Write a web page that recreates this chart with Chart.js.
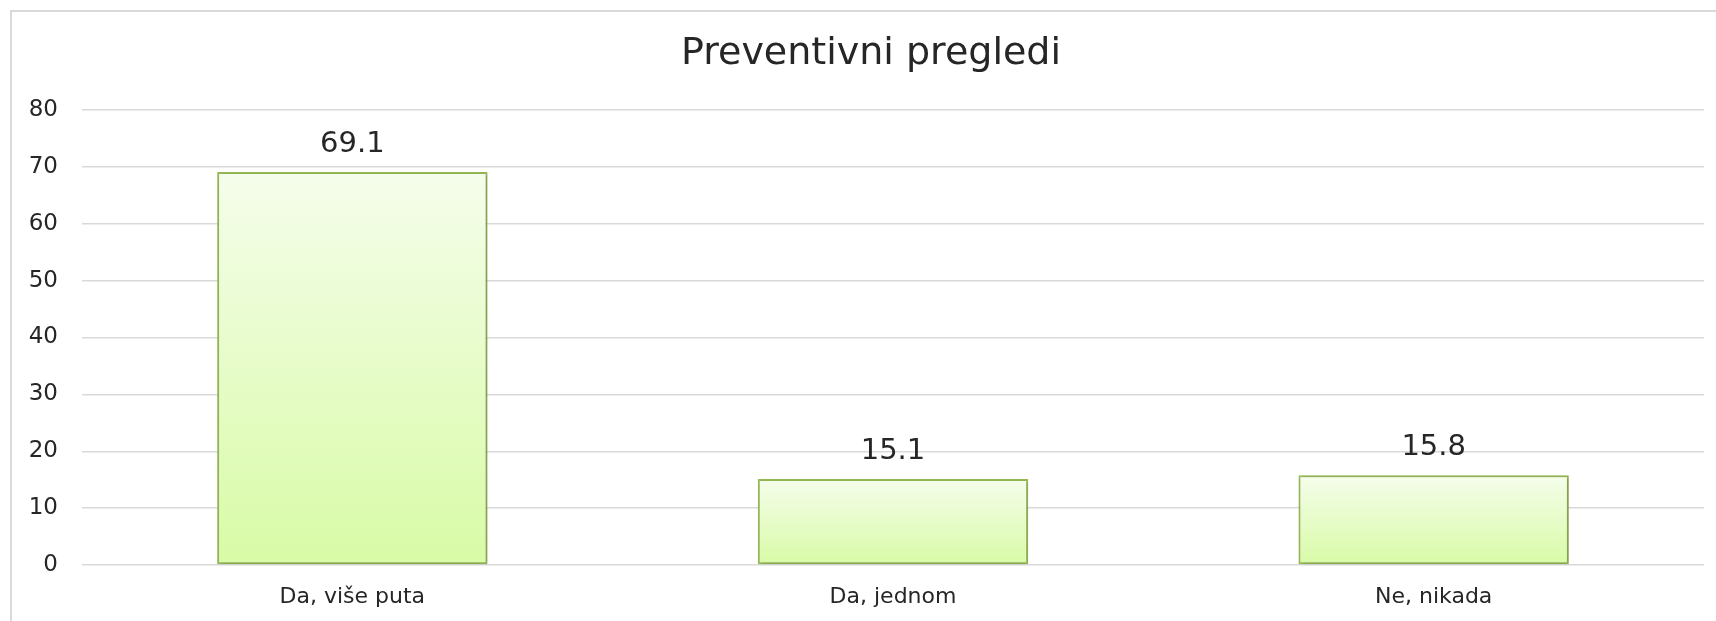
<!DOCTYPE html>
<html>
<head>
<meta charset="utf-8">
<script src="https://cdn.jsdelivr.net/npm/chart.js@4"></script>
<style>
  html, body { margin: 0; padding: 0; background: #fff; overflow: hidden; }
  #okvir {
    position: absolute; left: 10px; top: 10px;
    width: 1718px; height: 620px;
    border-left: 2px solid #d9d9d9; border-top: 2px solid #d9d9d9;
  }
  #grafik { display: block; }
</style>
</head>
<body>
<div id="okvir">
  <canvas id="grafik" width="1718" height="609"></canvas>
</div>
<script>
// podaci
const kategorije = ["Da, više puta", "Da, jednom", "Ne, nikada"];
const vrijednosti = [69.1, 15.1, 15.8];
const yMin = 0;
const yMax = 80;
const yKorak = 10;

const font = "'DejaVu Sans', sans-serif";
const tekst = "#262626";

// gradijent za svaki stupac, od vrha stupca do nule
function bojaStupca(ctx) {
    const chart = ctx.chart;
    const y = chart.scales.y;
    if (!chart.chartArea || !y) return "#e6fcc6";
    const vrh = y.getPixelForValue(ctx.raw);
    const dno = y.getPixelForValue(0);
    if (!isFinite(vrh) || !isFinite(dno) || vrh === dno) return "#e6fcc6";
    const g = chart.ctx.createLinearGradient(0, vrh, 0, dno);
    g.addColorStop(0, "#f5fdeb");
    g.addColorStop(1, "#d8fba6");
    return g;
}

// naslov centriran na cijelu širinu platna, ne samo do desnog razmaka
const naslovSredina = {
    id: "naslovSredina",
    afterLayout(chart) {
        if (chart.titleBlock) {
            chart.titleBlock.left = 0;
            chart.titleBlock.right = chart.width;
        }
    }
};

const sjena = {
    id: "sjena",
    beforeDatasetsDraw(chart) {
        const c = chart.ctx;
        c.save();
        c.shadowColor = "rgba(0,0,0,0.22)";
        c.shadowBlur = 4;
        c.shadowOffsetX = 1;
        c.shadowOffsetY = 1;
    },
    afterDatasetsDraw(chart) {
        chart.ctx.restore();
    }
};

const oznake = {
    id: "oznake",
    afterDatasetsDraw(chart) {
        const c = chart.ctx;
        c.save();
        c.font = "29px " + font;
        c.fillStyle = tekst;
        c.textAlign = "center";
        c.textBaseline = "middle";
        chart.getDatasetMeta(0).data.forEach((bar, i) => {
            c.fillText(vrijednosti[i].toFixed(1), bar.x, bar.y - 28);
        });
        c.restore();
    }
};

new Chart(document.getElementById("grafik"), {
    type: "bar",
    data: {
        labels: kategorije,
        datasets: [{
            data: vrijednosti,
            backgroundColor: bojaStupca,
            borderColor: "#98bd55",
            borderWidth: 2,
            borderSkipped: false,
            categoryPercentage: 0.5,
            barPercentage: 1
        }]
    },
    options: {
        responsive: false,
        animation: false,
        layout: {
            padding: { left: 0, right: 26, top: 0, bottom: 13 }
        },
        plugins: {
            legend: { display: false },
            tooltip: { enabled: false },
            title: {
                display: true,
                text: "Preventivni pregledi",
                color: tekst,
                font: { family: font, size: 38, weight: "normal", lineHeight: 1.2 },
                padding: { top: 19.2, bottom: 33.2 }
            }
        },
        scales: {
            x: {
                afterFit(scale) { scale.height = 43; },
                grid: { display: false, drawTicks: false },
                border: { display: false },
                ticks: {
                    color: tekst,
                    padding: 19,
                    font: { family: font, size: 22, lineHeight: 1.2 }
                }
            },
            y: {
                min: yMin,
                max: yMax,
                afterFit(scale) { scale.width = 70; },
                grid: { color: "#d9d9d9", lineWidth: 1.5, drawTicks: false },
                border: { display: false },
                ticks: {
                    stepSize: yKorak,
                    color: tekst,
                    padding: 24,
                    font: { family: font, size: 23 }
                }
            }
        }
    },
    plugins: [naslovSredina, sjena, oznake]
});
</script>
</body>
</html>
